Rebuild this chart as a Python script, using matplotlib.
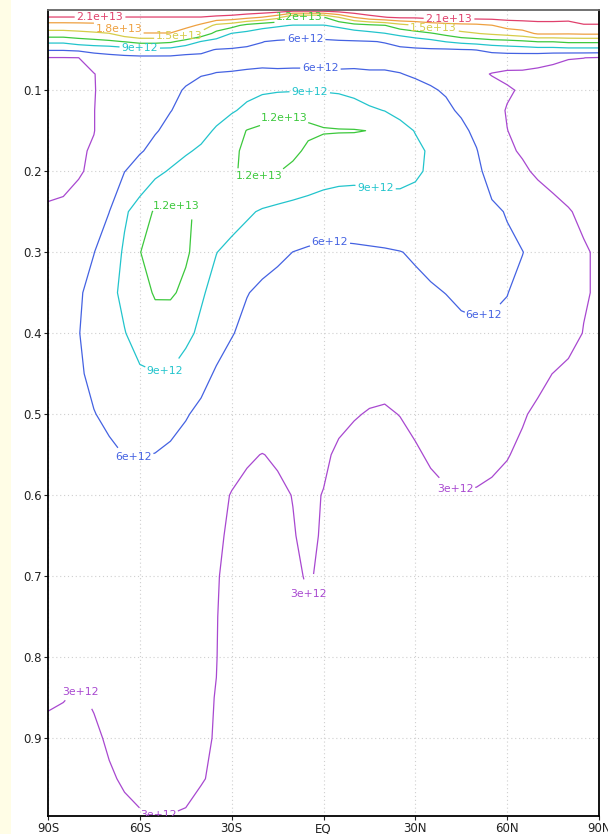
import matplotlib.pyplot as plt
from matplotlib.patches import Rectangle
import numpy as np

# latitude (deg) and sigma levels of the zonal-mean field
lat = np.arange(-90, 91, 5)
sigma = [0.0, 0.01, 0.02, 0.03, 0.04, 0.05, 0.06, 0.08, 0.1, 0.125, 0.15, 0.175, 0.2,
         0.25, 0.3, 0.35, 0.4, 0.45, 0.5, 0.55, 0.6, 0.65, 0.7, 0.75, 0.8, 0.85, 0.9, 0.95, 1.0]

# field values in units of 1e12, one row per sigma level, 90S -> 90N
field_e12 = [
    [24.0, 24.0, 24.0, 24.0, 24.0, 24.0, 24.0, 24.0, 24.0, 24.0, 24.0, 24.0, 24.0, 24.0, 24.0, 24.0, 24.0, 24.0, 24.0,
     24.0, 24.0, 24.0, 24.0, 24.0, 24.0, 24.0, 24.0, 24.0, 24.0, 24.0, 24.0, 24.0, 24.0, 24.0, 24.0, 24.0, 24.0],
    [20.9, 20.9, 20.9, 20.9, 20.9, 20.9, 20.9, 20.9, 20.9, 20.9, 20.9, 20.4, 20.0, 19.0, 17.9, 16.0, 11.8, 11.8, 11.8,
     15.0, 18.1, 20.0, 20.9, 21.5, 21.5, 22.0, 22.0, 22.0, 22.0, 22.0, 22.0, 22.0, 22.0, 22.0, 21.9, 22.2, 22.2],
    [16.6, 16.6, 16.7, 16.9, 18.7, 19.3, 19.5, 19.5, 19.5, 19.1, 17.4, 14.2, 13.2, 11.0, 9.9, 9.3, 8.9, 8.9, 8.9,
     9.5, 10.7, 11.3, 11.9, 13.8, 14.9, 16.0, 16.7, 17.1, 17.3, 17.9, 19.3, 19.7, 20.1, 20.1, 20.0, 20.8, 20.8],
    [14.0, 14.0, 14.3, 14.6, 14.9, 16.8, 17.9, 17.9, 17.9, 16.0, 14.0, 11.1, 8.9, 8.3, 7.7, 7.6, 7.1, 7.1, 7.1,
     7.6, 7.8, 8.3, 8.9, 9.9, 10.8, 11.7, 12.9, 14.3, 14.9, 15.5, 16.1, 16.8, 18.4, 18.4, 18.3, 18.5, 18.5],
    [9.6, 9.6, 10.5, 11.0, 11.5, 12.1, 13.0, 13.0, 12.5, 10.8, 8.9, 7.9, 7.1, 6.5, 6.05, 5.7, 5.6, 5.6, 5.6,
     5.7, 5.8, 5.9, 6.1, 6.7, 7.5, 8.1, 9.1, 9.8, 10.3, 10.9, 11.1, 11.5, 12.1, 12.1, 12.6, 12.6, 12.6],
    [6.3, 6.3, 6.6, 7.0, 7.1, 7.7, 8.1, 8.1, 8.0, 7.1, 6.5, 5.9, 5.8, 5.7, 5.6, 5.5, 5.4, 5.4, 5.4,
     5.5, 5.5, 5.5, 5.5, 5.6, 5.6, 5.7, 5.7, 5.9, 6.05, 6.8, 7.3, 7.5, 7.8, 7.8, 8.0, 8.0, 8.0],
    [2.9, 2.9, 2.98, 4.6, 5.2, 5.3, 5.4, 5.4, 5.4, 5.3, 5.5, 5.5, 5.5, 5.5, 5.5, 5.4, 5.3, 5.3, 5.3,
     5.3, 5.4, 5.4, 5.4, 5.4, 5.3, 5.3, 5.2, 5.0, 4.9, 4.6, 4.4, 4.3, 4.0, 3.5, 3.1, 3.02, 2.8],
    [2.5, 2.45, 2.5, 2.9, 4.2, 4.5, 4.7, 4.8, 5.0, 5.7, 5.9, 6.05, 6.1, 6.2, 6.3, 6.3, 6.4, 6.4, 6.4,
     6.3, 6.3, 6.2, 6.2, 6.05, 5.8, 5.5, 5.1, 4.6, 3.5, 2.9, 2.6, 2.6, 2.4, 2.3, 2.2, 2.2, 2.2],
    [2.5, 2.4, 2.5, 2.9, 3.8, 4.5, 5.0, 5.4, 5.7, 6.1, 6.6, 7.2, 7.8, 8.2, 8.5, 8.7, 8.8, 8.8, 8.8,
     8.7, 8.4, 8.0, 7.5, 7.0, 6.5, 6.2, 5.8, 5.1, 4.4, 3.7, 3.2, 2.8, 2.5, 2.3, 2.2, 2.1, 2.1],
    [2.5, 2.5, 2.6, 2.95, 4.0, 4.7, 5.2, 5.6, 5.95, 6.5, 7.2, 8.0, 8.7, 9.6, 10.8, 11.6, 11.7, 11.4, 10.9,
     10.4, 9.9, 9.3, 8.95, 8.3, 7.6, 7.0, 6.4, 5.7, 4.7, 3.6, 2.9, 2.6, 2.4, 2.3, 2.2, 2.1, 2.1],
    [2.5, 2.5, 2.6, 2.95, 4.0, 4.9, 5.4, 5.85, 6.5, 7.3, 8.2, 9.3, 10.6, 12.1, 12.5, 12.7, 12.6, 12.4, 12.2,
     12.15, 12.15, 11.95, 10.8, 9.8, 8.9, 8.0, 7.2, 6.5, 5.5, 4.2, 3.02, 2.6, 2.4, 2.3, 2.2, 2.1, 2.1],
    [2.6, 2.6, 2.75, 3.2, 4.0, 5.0, 5.8, 6.6, 7.5, 8.7, 9.4, 10.4, 11.5, 12.5, 13.0, 13.0, 12.5, 11.6, 11.0,
     10.8, 10.6, 10.5, 10.3, 10.0, 9.5, 8.7, 7.8, 6.9, 6.1, 4.6, 3.3, 2.8, 2.5, 2.3, 2.2, 2.1, 2.1],
    [2.7, 2.75, 2.85, 3.3, 4.4, 5.95, 7.0, 8.2, 9.3, 10.0, 10.6, 11.2, 11.8, 12.3, 12.5, 12.1, 11.5, 10.8, 10.2,
     9.9, 9.8, 9.9, 10.0, 10.0, 9.5, 8.5, 7.7, 7.0, 6.4, 5.3, 4.2, 3.3, 2.7, 2.4, 2.2, 2.1, 2.1],
    [3.1, 3.15, 3.6, 5.0, 5.98, 8.6, 10.2, 12.4, 12.5, 12.3, 11.6, 10.8, 10.1, 9.4, 8.7, 8.3, 8.0, 7.8, 7.6,
     7.5, 7.5, 7.6, 7.7, 7.7, 7.6, 7.4, 7.1, 6.9, 6.6, 6.3, 5.9, 4.9, 4.1, 3.5, 3.1, 2.7, 2.4],
    [3.4, 4.0, 4.9, 5.95, 7.3, 9.4, 11.95, 12.8, 13.0, 12.3, 11.1, 9.05, 8.3, 7.6, 7.0, 6.5, 5.98, 5.7, 5.5,
     5.5, 5.6, 5.7, 5.8, 5.95, 6.2, 6.4, 6.6, 6.6, 6.5, 6.4, 6.3, 6.05, 5.2, 4.4, 3.7, 3.15, 2.8],
    [3.6, 4.5, 5.7, 6.8, 8.3, 9.6, 11.0, 12.25, 12.3, 11.5, 9.3, 8.2, 7.1, 6.1, 5.5, 5.1, 4.8, 4.6, 4.5,
     4.5, 4.6, 4.8, 5.0, 5.3, 5.6, 5.85, 6.02, 6.2, 6.3, 6.25, 6.05, 5.4, 4.7, 4.1, 3.6, 3.15, 2.8],
    [3.7, 4.7, 5.9, 7.2, 8.2, 8.9, 10.0, 10.8, 10.6, 9.6, 8.5, 7.2, 6.15, 5.3, 4.8, 4.4, 4.2, 4.0, 3.9,
     3.9, 4.0, 4.2, 4.4, 4.6, 4.9, 5.2, 5.5, 5.75, 5.8, 5.75, 5.5, 5.0, 4.5, 4.0, 3.5, 2.95, 2.6],
    [3.6, 4.5, 5.6, 6.7, 7.6, 8.3, 8.7, 8.9, 8.85, 8.0, 6.9, 5.7, 4.9, 4.4, 4.0, 3.8, 3.6, 3.5, 3.5,
     3.4, 3.35, 3.3, 3.3, 3.4, 3.6, 3.85, 4.1, 4.3, 4.4, 4.3, 4.0, 3.6, 3.3, 2.98, 2.7, 2.5, 2.3],
    [3.5, 4.1, 5.0, 5.9, 6.6, 7.0, 7.2, 7.1, 6.8, 6.2, 5.4, 4.7, 4.2, 3.8, 3.6, 3.5, 3.4, 3.3, 3.25,
     3.15, 3.05, 2.95, 2.9, 3.02, 3.2, 3.4, 3.6, 3.7, 3.7, 3.6, 3.4, 3.1, 2.8, 2.6, 2.45, 2.3, 2.2],
    [3.4, 3.8, 4.3, 4.9, 5.5, 6.05, 6.1, 5.95, 5.6, 5.0, 4.4, 3.8, 3.4, 3.1, 2.98, 3.1, 3.2, 3.2, 3.1,
     2.9, 2.75, 2.65, 2.6, 2.7, 2.9, 3.1, 3.3, 3.4, 3.4, 3.25, 3.05, 2.8, 2.6, 2.45, 2.35, 2.25, 2.2],
    [3.3, 3.5, 3.7, 4.1, 4.5, 4.8, 4.9, 4.8, 4.5, 4.1, 3.7, 3.3, 2.95, 2.8, 2.75, 2.85, 3.02, 3.1, 2.98,
     2.8, 2.6, 2.5, 2.5, 2.55, 2.65, 2.8, 2.9, 2.95, 2.9, 2.8, 2.7, 2.55, 2.45, 2.35, 2.3, 2.2, 2.15],
    [3.25, 3.4, 3.6, 3.85, 4.1, 4.2, 4.25, 4.2, 4.0, 3.75, 3.5, 3.15, 2.85, 2.7, 2.65, 2.75, 2.95, 3.2, 2.9,
     2.7, 2.5, 2.4, 2.4, 2.45, 2.5, 2.6, 2.65, 2.7, 2.65, 2.6, 2.5, 2.4, 2.35, 2.3, 2.25, 2.2, 2.1],
    [3.2, 3.3, 3.45, 3.6, 3.7, 3.75, 3.75, 3.7, 3.55, 3.4, 3.25, 3.05, 2.8, 2.65, 2.6, 2.65, 2.8, 3.1, 2.8,
     2.6, 2.45, 2.35, 2.35, 2.4, 2.45, 2.5, 2.55, 2.6, 2.55, 2.5, 2.45, 2.35, 2.3, 2.25, 2.2, 2.15, 2.1],
    [3.15, 3.2, 3.3, 3.4, 3.45, 3.45, 3.45, 3.4, 3.35, 3.25, 3.15, 3.02, 2.8, 2.65, 2.6, 2.6, 2.7, 2.9, 2.75,
     2.6, 2.45, 2.35, 2.35, 2.4, 2.45, 2.5, 2.5, 2.55, 2.5, 2.45, 2.4, 2.35, 2.3, 2.25, 2.2, 2.15, 2.1],
    [3.1, 3.15, 3.2, 3.25, 3.3, 3.3, 3.3, 3.3, 3.25, 3.2, 3.1, 3.01, 2.8, 2.65, 2.6, 2.6, 2.65, 2.75, 2.7,
     2.6, 2.45, 2.4, 2.4, 2.4, 2.45, 2.5, 2.5, 2.5, 2.5, 2.45, 2.4, 2.35, 2.3, 2.25, 2.2, 2.15, 2.1],
    [3.05, 3.02, 2.95, 3.05, 3.15, 3.2, 3.2, 3.2, 3.15, 3.12, 3.06, 2.99, 2.8, 2.65, 2.6, 2.6, 2.6, 2.7, 2.65,
     2.6, 2.5, 2.45, 2.4, 2.4, 2.45, 2.5, 2.5, 2.5, 2.5, 2.45, 2.4, 2.35, 2.3, 2.25, 2.2, 2.15, 2.1],
    [2.9, 2.85, 2.8, 2.92, 3.06, 3.12, 3.15, 3.15, 3.12, 3.1, 3.05, 2.98, 2.8, 2.65, 2.6, 2.6, 2.6, 2.65, 2.65,
     2.6, 2.5, 2.45, 2.4, 2.4, 2.45, 2.5, 2.5, 2.5, 2.5, 2.45, 2.4, 2.35, 2.3, 2.25, 2.2, 2.15, 2.1],
    [2.8, 2.75, 2.75, 2.8, 2.95, 3.05, 3.08, 3.08, 3.07, 3.05, 3.02, 2.95, 2.8, 2.65, 2.6, 2.6, 2.6, 2.65, 2.65,
     2.6, 2.5, 2.45, 2.4, 2.4, 2.45, 2.5, 2.5, 2.5, 2.5, 2.45, 2.4, 2.35, 2.3, 2.25, 2.2, 2.15, 2.1],
    [2.7, 2.65, 2.65, 2.7, 2.8, 2.9, 2.97, 2.99, 2.99, 2.98, 2.9, 2.85, 2.75, 2.65, 2.6, 2.6, 2.6, 2.6, 2.6,
     2.55, 2.5, 2.45, 2.4, 2.4, 2.45, 2.5, 2.5, 2.5, 2.5, 2.45, 2.4, 2.35, 2.3, 2.25, 2.2, 2.15, 2.1],
]

levels = [3e12, 6e12, 9e12, 1.2e13, 1.5e13, 1.8e13, 2.1e13]
line_colors = ['#a848d0', '#4462e2', '#22c4cc', '#3cc83c', '#d6cc48', '#eea040', '#e0406c']

# where each level gets its in-line label (lat, sigma)
label_spots = [
    [(43, 0.594), (-4.5, 0.722), (-78.5, 0.84), (-54, 0.992)],
    [(-6, 0.037), (-1, 0.072), (2, 0.279), (52, 0.372), (-62, 0.556)],
    [(-60, 0.046), (-4.5, 0.103), (17, 0.221), (-52, 0.444)],
    [(-8, 0.008), (-13, 0.133), (-21, 0.208), (-48, 0.242)],
    [(-47, 0.035), (36, 0.022)],
    [(-67, 0.026)],
    [(-73, 0.010), (41, 0.013)],
]

xtick_pos = [-90, -60, -30, 0, 30, 60, 90]
xtick_lab = ['90S', '60S', '30S', 'EQ', '30N', '60N', '90N']
ytick_pos = [0.1, 0.2, 0.3, 0.4, 0.5, 0.6, 0.7, 0.8, 0.9]

z = np.array(field_e12) * 1e12

fig = plt.figure(figsize=(6.08, 8.34), dpi=100)
fig.patches.append(Rectangle((0, 0), 11 / 608, 1, transform=fig.transFigure,
                             facecolor='#fffde6', edgecolor='none', zorder=-1))
ax = fig.add_axes([48 / 608, 18 / 834, 551 / 608, 806 / 834])

for lev, col, spots in zip(levels, line_colors, label_spots):
    cs = ax.contour(lat, sigma, z, levels=[lev], colors=[col], linewidths=0.9)
    txts = ax.clabel(cs, manual=spots, fmt=lambda v: '%g' % v, fontsize=7.8,
                     inline=True, inline_spacing=2)
    for t in txts:
        t.set_rotation(0)
        t.set_clip_on(True)

ax.set_xlim(-90, 90)
ax.set_ylim(0.996, 0.001)
ax.set_xticks(xtick_pos)
ax.set_xticklabels(xtick_lab)
ax.set_yticks(ytick_pos)
ax.set_yticklabels(['%.1f' % v for v in ytick_pos])
ax.grid(True, color='#cfcfcf', linestyle=(0, (1, 2.5)), linewidth=0.8)
ax.set_axisbelow(True)
ax.tick_params(direction='out', length=3, width=0.8, labelsize=8.5, pad=1.5,
               colors='#222222')
for side in ['left', 'bottom', 'right']:
    ax.spines[side].set_linewidth(1.3)
    ax.spines[side].set_color('black')
ax.spines['top'].set_linewidth(1.3)
ax.spines['top'].set_color('#666666')

fig.savefig('out.png', dpi=100)
plt.close(fig)
